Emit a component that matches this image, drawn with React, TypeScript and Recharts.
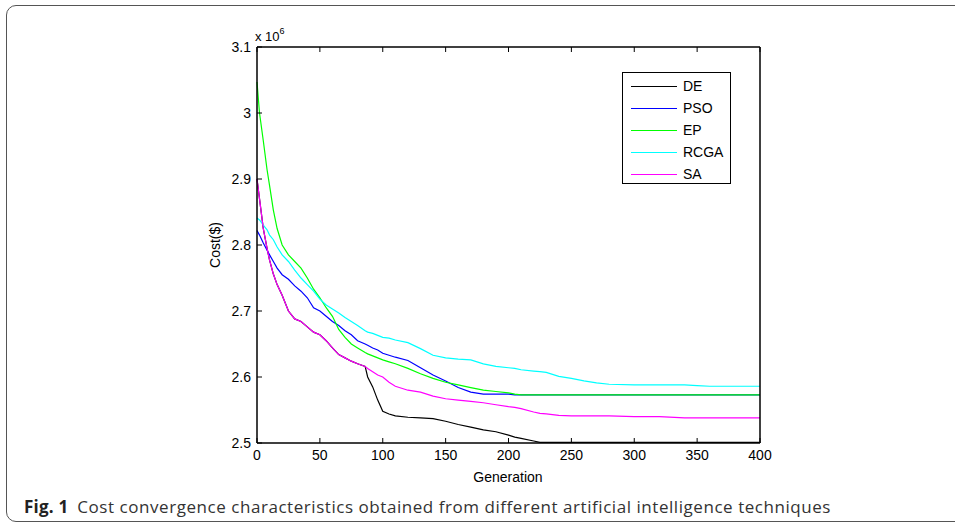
import React from 'react';
import { LineChart, Line, XAxis, YAxis, Legend } from 'recharts';

// generations sampled along the curves
const generation = [
  0, 2, 5, 8, 10, 13, 16, 20, 25, 30, 35, 40, 45, 50, 55, 60, 65, 70, 75, 80,
  86, 88, 92, 96, 100, 105, 110, 120, 130, 140, 150, 160, 170, 180, 190, 200,
  205, 210, 220, 225, 230, 240, 250, 260, 270, 280, 300, 320, 340, 350, 360, 380, 400,
];

// cost in units of 10^6 $
const deCost = [
  2.9, 2.87, 2.825, 2.795, 2.777, 2.756, 2.74, 2.724, 2.7, 2.688,
  2.684, 2.676, 2.668, 2.664, 2.655, 2.644, 2.634, 2.629, 2.624, 2.62,
  2.616, 2.6, 2.585, 2.565, 2.548, 2.544, 2.541, 2.539, 2.538, 2.537,
  2.533, 2.528, 2.524, 2.52, 2.517, 2.512, 2.509, 2.507, 2.503, 2.501,
  2.501, 2.501, 2.501, 2.501, 2.501, 2.501, 2.501, 2.501, 2.501, 2.501,
  2.501, 2.501, 2.501,
];
const psoCost = [
  2.822, 2.815, 2.803, 2.792, 2.785, 2.775, 2.765, 2.755, 2.748, 2.738,
  2.73, 2.72, 2.705, 2.7, 2.692, 2.684, 2.678, 2.67, 2.664, 2.655,
  2.65, 2.648, 2.644, 2.641, 2.636, 2.633, 2.63, 2.625, 2.614, 2.603,
  2.594, 2.584, 2.577, 2.574, 2.574, 2.574, 2.573, 2.573, 2.573, 2.573,
  2.573, 2.573, 2.573, 2.573, 2.573, 2.573, 2.573, 2.573, 2.573, 2.573,
  2.573, 2.573, 2.573,
];
const epCost = [
  3.047, 3.0, 2.958, 2.914, 2.89, 2.853, 2.825, 2.8, 2.785, 2.775,
  2.765, 2.75, 2.733, 2.72, 2.705, 2.692, 2.672, 2.66, 2.65, 2.644,
  2.637, 2.635, 2.632, 2.629, 2.626, 2.623, 2.62, 2.613, 2.605, 2.598,
  2.592, 2.588, 2.584, 2.58, 2.578, 2.576, 2.574, 2.573, 2.573, 2.573,
  2.573, 2.573, 2.573, 2.573, 2.573, 2.573, 2.573, 2.573, 2.573, 2.573,
  2.573, 2.573, 2.573,
];
const rcgaCost = [
  2.841, 2.838, 2.83, 2.823, 2.815, 2.808, 2.797, 2.785, 2.775, 2.762,
  2.75, 2.74, 2.73, 2.718, 2.709, 2.703, 2.697, 2.69, 2.684, 2.678,
  2.67, 2.668, 2.666, 2.663, 2.66, 2.659, 2.656, 2.652, 2.643, 2.633,
  2.629, 2.627, 2.626, 2.62, 2.616, 2.614, 2.613, 2.611, 2.609, 2.608,
  2.607, 2.601, 2.598, 2.594, 2.591, 2.589, 2.588, 2.588, 2.588, 2.587,
  2.586, 2.586, 2.586,
];
const saCost = [
  2.9, 2.87, 2.825, 2.795, 2.777, 2.756, 2.74, 2.724, 2.7, 2.688,
  2.684, 2.676, 2.668, 2.664, 2.655, 2.644, 2.634, 2.629, 2.624, 2.62,
  2.616, 2.613, 2.608, 2.603, 2.6, 2.592, 2.586, 2.58, 2.577, 2.571,
  2.567, 2.565, 2.563, 2.561, 2.558, 2.555, 2.554, 2.552, 2.547, 2.545,
  2.544, 2.542, 2.541, 2.541, 2.541, 2.541, 2.54, 2.54, 2.538, 2.538,
  2.538, 2.538, 2.538,
];

const xTicks = [0, 50, 100, 150, 200, 250, 300, 350, 400];
const yTicks = [2.5, 2.6, 2.7, 2.8, 2.9, 3.0, 3.1];

const series = [
  { key: 'DE', values: deCost, color: '#000000' },
  { key: 'PSO', values: psoCost, color: '#0000ff' },
  { key: 'EP', values: epCost, color: '#00ff00' },
  { key: 'RCGA', values: rcgaCost, color: '#00ffff' },
  { key: 'SA', values: saCost, color: '#ff00ff' },
];

const data = generation.map((g, i) => {
  const row: Record<string, number> = { g };
  series.forEach((s) => {
    row[s.key] = s.values[i];
  });
  return row;
});

const FONT = '"Liberation Sans", Arial, sans-serif';
const tickStyle = { fill: '#000', fontSize: 14, fontFamily: FONT };
const axisLine = { stroke: '#000', strokeWidth: 1.5 };
const blank = () => '';

const LegendBox = () => (
  <div
    style={{
      width: 109,
      height: 112,
      border: '1.5px solid #000',
      background: '#fff',
      boxSizing: 'border-box',
      paddingTop: 2,
      fontFamily: FONT,
      fontSize: 14,
    }}
  >
    {series.map((s) => (
      <div key={s.key} style={{ display: 'flex', alignItems: 'center', height: 22 }}>
        <div style={{ width: 46, height: 0, borderTop: `1.5px solid ${s.color}`, marginLeft: 8, marginRight: 6 }} />
        <span>{s.key}</span>
      </div>
    ))}
  </div>
);

export default function App() {
  return (
    <div style={{ position: 'absolute', left: 0, top: 0, width: 955, height: 524, overflow: 'hidden', background: '#fff' }}>
      <div
        style={{
          position: 'absolute',
          left: 6,
          top: 5,
          width: 1000,
          height: 517,
          border: '1.5px solid #555',
          borderRadius: 10,
          boxSizing: 'border-box',
        }}
      />
      <div style={{ position: 'absolute', left: 0, top: 0 }}>
        <LineChart width={955} height={524} data={data} margin={{ top: 46, right: 194, bottom: 51, left: 217 }}>
          <XAxis
            dataKey="g"
            type="number"
            domain={[0, 400]}
            ticks={xTicks}
            height={30}
            tickSize={-5}
            tickMargin={12}
            tick={tickStyle}
            axisLine={axisLine}
            tickLine={{ stroke: '#000' }}
          />
          <XAxis
            xAxisId="top"
            orientation="top"
            dataKey="g"
            type="number"
            domain={[0, 400]}
            ticks={xTicks}
            height={1}
            tickSize={-5}
            tickFormatter={blank}
            axisLine={axisLine}
            tickLine={{ stroke: '#000' }}
          />
          <YAxis
            type="number"
            domain={[2.5, 3.1]}
            ticks={yTicks}
            width={40}
            tickSize={-5}
            tickMargin={11}
            tick={tickStyle}
            tickFormatter={(v: number) => String(Math.round(v * 10) / 10)}
            axisLine={axisLine}
            tickLine={{ stroke: '#000' }}
          />
          <YAxis
            yAxisId="right"
            orientation="right"
            type="number"
            domain={[2.5, 3.1]}
            ticks={yTicks}
            width={1}
            tickSize={-5}
            tickFormatter={blank}
            axisLine={axisLine}
            tickLine={{ stroke: '#000' }}
          />
          {series.map((s) => (
            <Line
              key={s.key}
              dataKey={s.key}
              type="linear"
              stroke={s.color}
              strokeWidth={1.2}
              dot={false}
              isAnimationActive={false}
            />
          ))}
          <Legend
            layout="vertical"
            align="center"
            verticalAlign="middle"
            content={() => <LegendBox />}
            wrapperStyle={{ left: 622, top: 72, width: 111, height: 114 }}
          />
        </LineChart>
      </div>
      <div style={{ position: 'absolute', left: 255, top: 28, fontFamily: FONT, fontSize: 13 }}>
        x 10<sup style={{ fontSize: 9, position: 'relative', top: -2 }}>6</sup>
      </div>
      <div
        style={{
          position: 'absolute',
          left: 215,
          top: 245,
          transform: 'translate(-50%, -50%) rotate(-90deg)',
          fontFamily: FONT,
          fontSize: 14,
          whiteSpace: 'nowrap',
        }}
      >
        Cost($)
      </div>
      <div
        style={{
          position: 'absolute',
          left: 508,
          top: 477,
          transform: 'translate(-50%, -50%)',
          fontFamily: FONT,
          fontSize: 14,
          whiteSpace: 'nowrap',
        }}
      >
        Generation
      </div>
      <div
        style={{
          position: 'absolute',
          left: 24,
          top: 495,
          fontFamily: '"Open Sans", "Noto Sans", sans-serif',
          fontSize: 17,
          color: '#222',
          whiteSpace: 'nowrap',
        }}
      >
        <b style={{ letterSpacing: 0.2 }}>Fig. 1</b>
        <span style={{ marginLeft: 9, letterSpacing: 0.55, color: '#333' }}>
          Cost convergence characteristics obtained from different artificial intelligence techniques
        </span>
      </div>
    </div>
  );
}
